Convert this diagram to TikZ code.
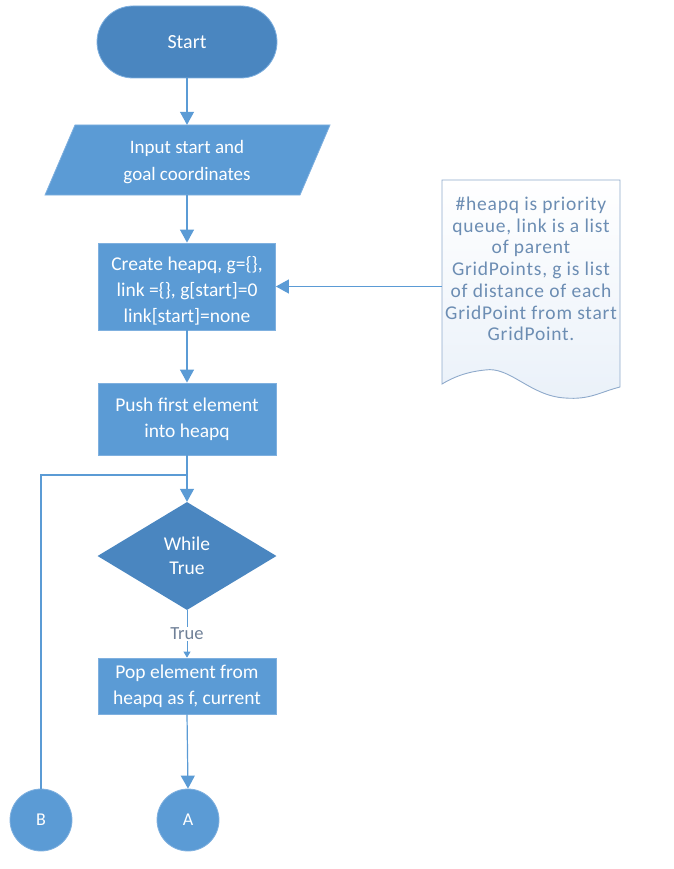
\documentclass[tikz,border=0pt]{standalone}
\usepackage{fontspec}
\setmainfont{Carlito}
\newfontfamily\spacedfont[LetterSpace=4]{Carlito}
\usetikzlibrary{shapes.geometric,arrows.meta}
\definecolor{boxblue}{HTML}{5B9BD5}
\definecolor{darkblue}{HTML}{4A86C0}
\definecolor{edgeblue}{HTML}{7FB0DF}
\definecolor{notetext}{HTML}{6C8DB3}
\definecolor{noteedge}{HTML}{8FAACB}
\definecolor{notefill}{HTML}{EAF1F9}
\definecolor{labelgray}{HTML}{6F8097}
\tikzset{
  procbox/.style={rectangle, fill=boxblue, draw=edgeblue, line width=0.8pt, text=white,
    align=center, font=\fontsize{19.5}{25}\selectfont, inner sep=2pt},
  flowarrow/.style={draw=boxblue, line width=1.2pt, -{Triangle[length=13pt,width=14pt]}},
  flowline/.style={draw=boxblue, line width=1.2pt},
  connector/.style={circle, fill=boxblue, draw=edgeblue, line width=0.8pt, text=white,
    minimum size=62pt, font=\fontsize{18}{20}\selectfont, inner sep=0pt},
}
\begin{document}
\begin{tikzpicture}[x=1pt,y=-1pt]
\useasboundingbox (0,0) rectangle (673,869);
% Start
\node[procbox, fill=darkblue, rounded corners=36pt, minimum width=180pt, minimum height=72pt,
  font=\fontsize{20}{24}\selectfont] (start) at (187,42) {Start};
% Input parallelogram
\node[minimum width=200pt, minimum height=70pt, inner sep=0pt] (inp) at (187,160) {};
\fill[boxblue, draw=edgeblue, line width=0.8pt] (75,125) -- (330,125) -- (300,195) -- (45,195) -- cycle;
\node[text=white, align=center, font=\fontsize{19}{27}\selectfont] (inptext) at (187,162) {Input start and\\goal coordinates};
% Create
\node[procbox, minimum width=177pt, minimum height=87pt] (create) at (187,286.5) {};
\node[text=white, align=center, font=\fontsize{19.5}{26}\selectfont] (createtext) at (187,291) {Create heapq, g=\{\},\\link =\{\}, g[start]=0\\link[start]=none};
% Note
\node[minimum width=178pt, minimum height=190pt, inner sep=0pt] (note) at (531,282) {};
\draw[noteedge, line width=0.9pt, top color=white, bottom color=notefill]
  (442,180) -- (620,180) -- (620,387)
  .. controls (600,392) and (590,400) .. (565,398)
  .. controls (530,396) and (510,366) .. (485,370)
  .. controls (465,372) and (452,378) .. (442,384) -- cycle;
\node[text=notetext, align=center, font=\spacedfont\fontsize{19.5}{21.7}\selectfont] (notetext) at (531,269)
  {\#heapq is priority\\queue, link is a list\\of parent\\GridPoints, g is list\\of distance of each\\GridPoint from start\\GridPoint.};
% Push
\node[procbox, minimum width=178pt, minimum height=72pt, font=\fontsize{19.5}{26}\selectfont] (push) at (187,419) {Push first element\\into heapq};
% While diamond
\node[diamond, fill=darkblue, text=white, align=center, minimum width=179pt, minimum height=108pt,
  inner sep=0pt, aspect=1.66, font=\fontsize{19.5}{24}\selectfont] (while) at (187,556) {While\\True};
% True label
\node[text=labelgray, font=\fontsize{18.5}{20}\selectfont, inner sep=1pt] (truelbl) at (187,634) {True};
% Pop
\node[procbox, minimum width=178pt, minimum height=56pt, font=\fontsize{19.5}{26}\selectfont] (pop) at (187,686) {Pop element from\\heapq as f, current};
% Connectors
\node[connector] (A) at (188,820) {A};
\node[connector] (B) at (41,820) {B};
\coordinate (loopc) at (41,475);
\coordinate (loopj) at (187,475);
% arrows
\draw[flowarrow] (start.south) -- (inp.north);
\draw[flowarrow] (inp.south) -- (create.north);
\draw[flowarrow] (note.west |- create.east) -- (create.east);
\draw[flowarrow] (create.south) -- (push.north);
\draw[flowarrow] (push.south) -- (while.north);
\draw[flowline] (B.north) -- (loopc) -- (loopj);
\draw[flowline, line width=0.8pt] (while.south) -- (truelbl.north);
\draw[draw=boxblue, line width=0.8pt, -{Triangle[length=6pt,width=7pt]}] (truelbl.south) -- (pop.north);
\draw[flowarrow] (pop.south) -- (A.north);
\end{tikzpicture}
\end{document}
